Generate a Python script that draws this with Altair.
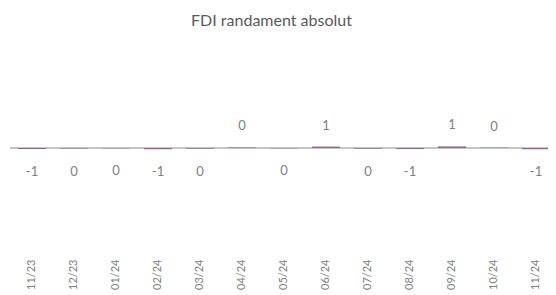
import altair as alt
import pandas as pd

months = ["11/23", "12/23", "01/24", "02/24", "03/24", "04/24", "05/24",
          "06/24", "07/24", "08/24", "09/24", "10/24", "11/24"]
values = [-0.6, -0.3, -0.2, -0.7, -0.4, 0.3, -0.2, 0.8, -0.4, -0.6, 0.9, 0.2, -0.7]

df = pd.DataFrame({"month": months, "value": values})
df["label"] = [str(int(round(v))) for v in values]
df["up"] = [lbl if v >= 0 else "" for v, lbl in zip(values, df["label"])]
df["down"] = [lbl if v < 0 else "" for v, lbl in zip(values, df["label"])]
df["zero"] = 0.0

W = 537
R = 546

x = alt.X("month:N", sort=months, title=None,
          scale=alt.Scale(paddingInner=0.33, paddingOuter=0.165, range=[0, R]),
          axis=alt.Axis(labelAngle=-90, labelColor="#808080", labelFont="Lato",
                        labelFontSize=11, ticks=False, domain=False, labelPadding=5))
y = alt.Y("value:Q", scale=alt.Scale(domain=[-52, 54]), axis=None)

base = alt.Chart(df)

zero = base.mark_rule(color="#c4c4c4", strokeWidth=1.5).encode(
    y=alt.Y("zero:Q", axis=None), x=alt.value(-1), x2=alt.value(R))
bars = base.mark_bar(color="#8e6b8e").encode(x=x, y=y)
up = base.mark_text(
    dy=-21, color="#7f7f7f", font="Lato", fontSize=13, baseline="middle"
).encode(x=x, y=y, text="up:N")
down = base.mark_text(
    dy=23, color="#7f7f7f", font="Lato", fontSize=13, baseline="middle"
).encode(x=x, y=y, text="down:N")

chart = alt.layer(zero, bars, up, down).properties(
    width=W, height=212,
    autosize=alt.AutoSizeParams(type="none"),
    padding={"left": 3, "top": 34, "right": 0, "bottom": 40},
    title=alt.Title("FDI randament absolut", color="#595959", font="Lato",
                    fontSize=16, fontWeight="normal", offset=13, dx=-8),
).configure_view(strokeWidth=0)

chart.save("out.html", embed_options={"renderer": "svg", "actions": False})
